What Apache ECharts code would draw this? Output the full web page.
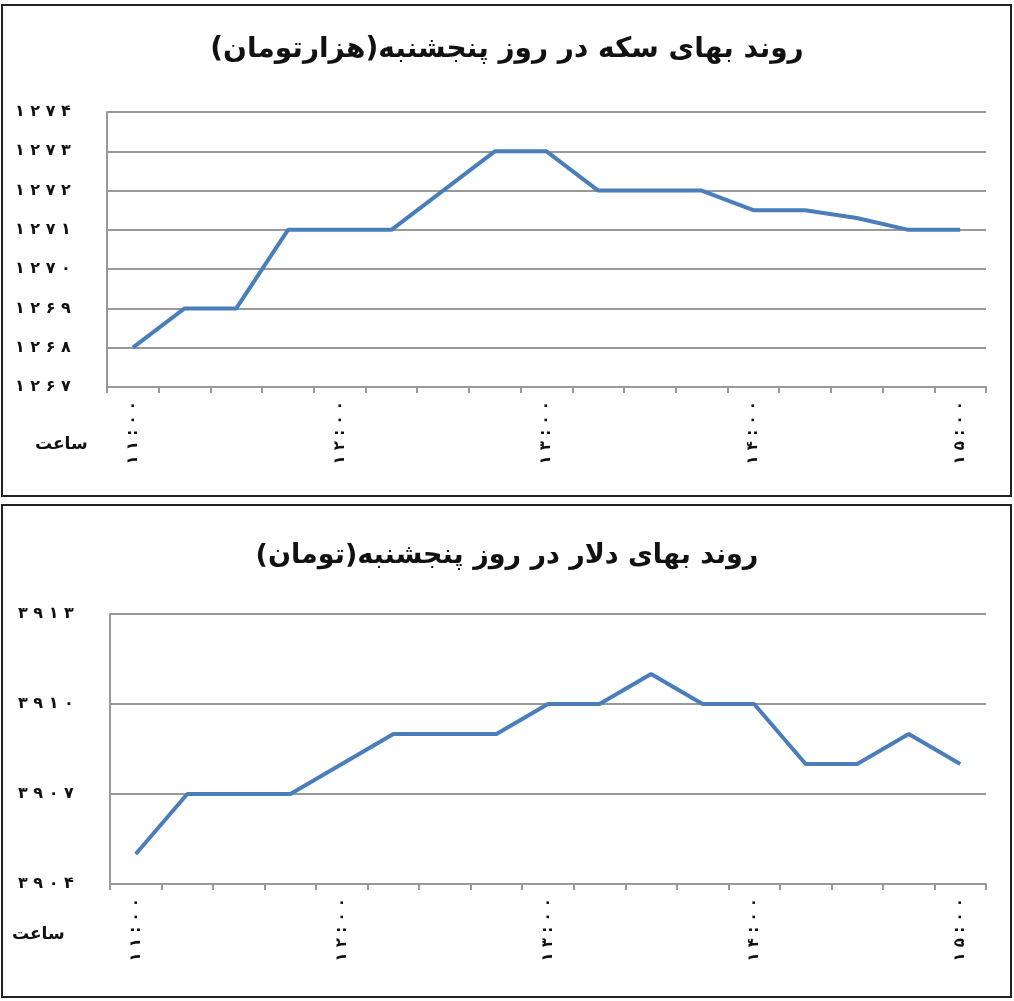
<!DOCTYPE html><html><head><meta charset="utf-8"><script src="https://cdn.jsdelivr.net/npm/echarts@6/dist/echarts.min.js"></script>
<style>html,body{margin:0;padding:0;background:#fff}#c{width:1014px;height:1001px}</style></head><body><div id="c"></div><script>
const categories=['11:00','','','','12:00','','','','13:00','','','','14:00','','','','15:00'];
const coinValues=[1268,1269,1269,1271,1271,1271,1272,1273,1273,1272,1272,1272,1271.5,1271.5,1271.3,1271,1271];
const dollarValues=[3905,3907,3907,3907,3908,3909,3909,3909,3910,3910,3911,3910,3910,3908,3908,3909,3908];
const coinTitle='روند بهای سکه در روز پنجشنبه(هزارتومان)';
const dollarTitle='روند بهای دلار در روز پنجشنبه(تومان)';
const fa=s=>String(s).replace(/\d/g,d=>'۰۱۲۳۴۵۶۷۸۹'[d]);
const font='"DejaVu Sans","Noto Sans",sans-serif';
const ch=echarts.init(document.getElementById('c'));
const xa=(i)=>({type:'category',gridIndex:i,data:categories,boundaryGap:true,
 axisLine:{lineStyle:{color:'#999',width:2}},axisTick:{show:true,interval:0,lineStyle:{color:'#999',width:2},length:6},
 axisLabel:{interval:3,rotate:90,formatter:v=>fa(v).split('').join(' '),color:'#111',fontSize:15,fontWeight:'bold',fontFamily:font,margin:14}});
const ya=(i,min,max,iv)=>({type:'value',gridIndex:i,min,max,interval:iv,
 axisLine:{show:true,lineStyle:{color:'#999',width:2}},axisTick:{show:false},
 splitLine:{lineStyle:{color:'#999',width:2}},
 axisLabel:{formatter:v=>fa(v).split('').join(' '),color:'#111',fontSize:16,fontWeight:'bold',fontFamily:font,align:'left',margin:92}});
ch.setOption({animation:false,
 graphic:[{type:'rect',shape:{x:2,y:5,width:1009,height:491},style:{fill:'none',stroke:'#222',lineWidth:2}},
  {type:'rect',shape:{x:2,y:505,width:1009,height:492},style:{fill:'none',stroke:'#222',lineWidth:2}},
  {type:'text',left:35,top:436,style:{text:'ساعت',font:'bold 17px '+font,fill:'#111'}},
  {type:'text',left:12,top:926,style:{text:'ساعت',font:'bold 17px '+font,fill:'#111'}}],
 title:[{text:coinTitle,left:'center',top:31,textStyle:{fontSize:28,fontWeight:'bold',fontFamily:font,color:'#111'}},
  {text:dollarTitle,left:'center',top:537,textStyle:{fontSize:27,fontWeight:'bold',fontFamily:font,color:'#111'}}],
 grid:[{left:107,right:28,top:112,height:275},{left:110,right:28,top:614,height:270}],
 xAxis:[xa(0),xa(1)],
 yAxis:[ya(0,1267,1274,1),ya(1,3904,3913,3)],
 series:[{type:'line',data:coinValues,xAxisIndex:0,yAxisIndex:0,symbol:'none',lineStyle:{color:'#4a7ebb',width:4}},
  {type:'line',data:dollarValues,xAxisIndex:1,yAxisIndex:1,symbol:'none',lineStyle:{color:'#4a7ebb',width:4}}]
});
</script></body></html>
